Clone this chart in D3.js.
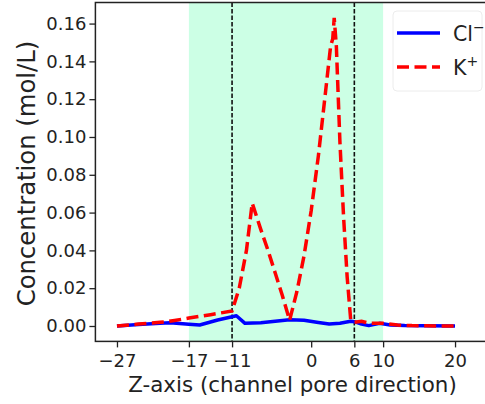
<!DOCTYPE html>
<html>
<head>
<meta charset="utf-8">
<script src="https://cdn.jsdelivr.net/npm/d3@7"></script>
<style>
  html, body { margin: 0; padding: 0; background: #fff; }
  svg { display: block; font-family: "DejaVu Sans", sans-serif; }
</style>
</head>
<body>
<svg id="chart" width="485" height="404"></svg>
<script>
// ---- data ----
const zK = [-27, -24, -21, -20, -19, -17, -14, -11, -10, -9, -8.2, -7, -6, -5, -4, -3, -2, -1, 0, 1, 2, 2.7, 3.0, 3.2, 3.5, 4, 4.5, 5, 5.5, 6, 7, 8, 10, 12, 14, 16, 18, 20];
const kVals = [0, 0.001, 0.002, 0.0023, 0.0029, 0.0042, 0.006, 0.0079, 0.020, 0.040, 0.065, 0.051, 0.040, 0.028, 0.016, 0.003, 0.018, 0.037, 0.061, 0.090, 0.124, 0.148, 0.152, 0.163, 0.148, 0.097, 0.058, 0.026, 0.003, 0.002, 0.0025, 0.0015, 0.0014, 0.0005, 0.0002, 0.0001, 0, 0];
const zCl = [-27, -24, -21, -19.6, -17, -15.5, -13, -11, -10.4, -9.2, -7, -5, -3, -1, 1, 2.5, 4, 5.5, 6, 7, 8, 9.5, 11, 13, 16, 20];
const clVals = [0, 0.0008, 0.0015, 0.0017, 0.0009, 0.0005, 0.0032, 0.0049, 0.0054, 0.0014, 0.0017, 0.0025, 0.0033, 0.003, 0.0018, 0.001, 0.0015, 0.0025, 0.0023, 0.001, 0.0002, 0.0014, 0.0005, 0.0002, 0.0001, 0];
const xTicks = [-27, -17, -11, 0, 6, 10, 20];
const yTicks = [0, 0.02, 0.04, 0.06, 0.08, 0.10, 0.12, 0.14, 0.16];
const shadeRange = [-17, 10];
const vLines = [-11, 6];
const legendLabels = ["Cl", "K"];
const legendSup = ["\u2212", "+"];

// ---- layout ----
const svg = d3.select("#chart");
const L = 95.4, R = 491, T = 2.5, B = 341.4;
const x = d3.scaleLinear().domain([-30, 25]).range([L, R]);
const y = d3.scaleLinear().domain([-0.00815, 0.17115]).range([B, T]);

// shaded region
svg.append("rect")
  .attr("x", x(shadeRange[0])).attr("y", T)
  .attr("width", x(shadeRange[1]) - x(shadeRange[0])).attr("height", B - T)
  .attr("fill", "#ccffe5");

// vertical dashed lines
svg.selectAll(".vl").data(vLines).enter().append("line")
  .attr("x1", d => x(d)).attr("x2", d => x(d))
  .attr("y1", T).attr("y2", B)
  .attr("stroke", "#111").attr("stroke-width", 1.6)
  .attr("stroke-dasharray", "4.5,2");

const line = d3.line().x(d => x(d[0])).y(d => y(d[1]));
svg.append("path")
  .datum(zCl.map((z, i) => [z, clVals[i]]))
  .attr("d", line).attr("fill", "none")
  .attr("stroke", "#0000ff").attr("stroke-width", 3.5)
  .attr("stroke-linejoin", "round");
svg.append("path")
  .datum(zK.map((z, i) => [z, kVals[i]]))
  .attr("d", line).attr("fill", "none")
  .attr("stroke", "#ff0000").attr("stroke-width", 3.5)
  .attr("stroke-dasharray", "12,5.5");

// frame
svg.append("rect")
  .attr("x", L).attr("y", T).attr("width", R - L).attr("height", B - T)
  .attr("fill", "none").attr("stroke", "#222").attr("stroke-width", 1.5);

// x axis
const xAxis = d3.axisBottom(x).tickValues(xTicks).tickSize(6).tickPadding(7)
  .tickFormat(d => d < 0 ? "\u2212" + Math.abs(d) : String(d));
const gx = svg.append("g").attr("transform", `translate(0,${B})`).call(xAxis);
gx.select(".domain").remove();
gx.selectAll("line").attr("stroke", "#222").attr("stroke-width", 1.3);
gx.selectAll("text").attr("font-size", 18).attr("fill", "#222")
  .attr("font-family", "DejaVu Sans");

// y axis
const yAxis = d3.axisLeft(y).tickValues(yTicks).tickSize(6).tickPadding(3)
  .tickFormat(d3.format(".2f"));
const gy = svg.append("g").attr("transform", `translate(${L},0)`).call(yAxis);
gy.select(".domain").remove();
gy.selectAll("line").attr("stroke", "#222").attr("stroke-width", 1.3);
gy.selectAll("text").attr("font-size", 18).attr("fill", "#222")
  .attr("font-family", "DejaVu Sans");

// axis labels
svg.append("text")
  .attr("x", 292.5).attr("y", 392)
  .attr("text-anchor", "middle").attr("font-size", 21.4).attr("fill", "#222")
  .text("Z-axis (channel pore direction)");
svg.append("text")
  .attr("transform", `translate(35,${173.5}) rotate(-90)`)
  .attr("text-anchor", "middle").attr("font-size", 24.3).attr("fill", "#222")
  .text("Concentration (mol/L)");

// legend
svg.append("rect")
  .attr("x", 393).attr("y", 11).attr("width", 89).attr("height", 80)
  .attr("rx", 4).attr("fill", "#fff").attr("stroke", "#ececec").attr("stroke-width", 1);
const legY = [33, 67];
const legColors = ["#0000ff", "#ff0000"];
const legDash = [null, "12,5.5"];
legendLabels.forEach((lab, i) => {
  svg.append("line")
    .attr("x1", 397).attr("x2", 440).attr("y1", legY[i]).attr("y2", legY[i])
    .attr("stroke", legColors[i]).attr("stroke-width", 3.5)
    .attr("stroke-dasharray", legDash[i]);
  const t = svg.append("text").attr("x", 453).attr("y", legY[i] + 7.5)
    .attr("font-size", 20.5).attr("fill", "#222");
  t.append("tspan").text(lab);
  t.append("tspan").attr("dy", -8.5).attr("font-size", 14).text(legendSup[i]);
});
</script>
</body>
</html>
